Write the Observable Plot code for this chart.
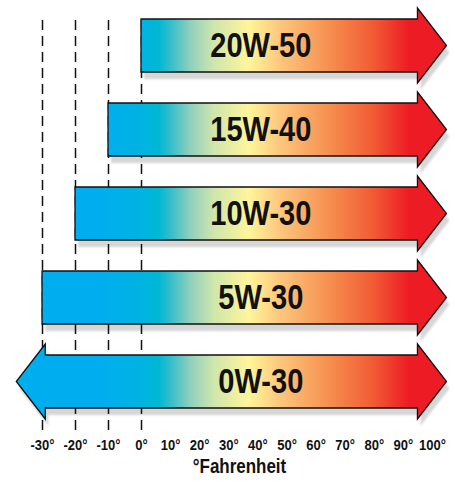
<!DOCTYPE html>
<html><head><meta charset="utf-8">
<script src="https://cdn.jsdelivr.net/npm/d3@7"></script>
<script src="https://cdn.jsdelivr.net/npm/@observablehq/plot@0.6"></script>
<style>body{margin:0;background:#fff}</style>
</head><body><div id="chart"></div>
<script>
// ---- data ----
const grades = ["20W-50", "15W-40", "10W-30", "5W-30", "0W-30"];
const lowTemp = [0, -10, -20, -30, -29];
const highTemp = [95, 95, 95, 95, 95];
const extendsColder = [false, false, false, false, true];
const tickValues = [-30, -20, -10, 0, 10, 20, 30, 40, 50, 60, 70, 80, 90, 100];
const guideTemps = [-30, -20, -10, 0];
const gradientTemps = [-12, 0, 6, 11, 17, 25, 37, 48, 65, 80, 92];
const gradientColors = ["#00aeef", "#00b3e2", "#00b8d4", "#40c0c8", "#90d0bc", "#cfe6ac", "#fff59b", "#fdc67c", "#f68e4f", "#f15a34", "#ed1c24"];

const rows = grades.map((g, i) => ({grade: g, low: lowTemp[i], high: highTemp[i], colder: extendsColder[i]}));

const FONT = "'Liberation Sans', Arial, sans-serif";
const SVGNS = "http://www.w3.org/2000/svg";

// narrow the text horizontally (Arial Narrow look)
function narrow(k) {
  return (index, scales, values, dimensions, context, next) => {
    const g = next(index, scales, values, dimensions, context);
    g.querySelectorAll("text").forEach(t => {
      const tr = t.getAttribute("transform") || "";
      t.setAttribute("transform", tr + ` scale(${k},1)`);
    });
    return g;
  };
}

function arrowPaths(scales) {
  const x = scales.x, y = scales.y;
  const bw = typeof y.bandwidth === "function" ? y.bandwidth() : (y.bandwidth ?? scales.scales.y.bandwidth);
  const flare = 11, len = 29;
  return rows.map(r => {
    const xl = x(r.low), xr = x(r.high), yt = y(r.grade), yb = yt + bw, yc = yt + bw / 2;
    let d = `M${xl},${yt}L${xr},${yt}L${xr},${yt - flare}L${xr + len},${yc}L${xr},${yb + flare}L${xr},${yb}L${xl},${yb}`;
    if (r.colder) d += `L${xl},${yb + flare}L${xl - len},${yc}L${xl},${yt - flare}`;
    return d + "Z";
  });
}

function shadows(index, scales) {
  const g = document.createElementNS(SVGNS, "g");
  const defs = document.createElementNS(SVGNS, "defs");
  const f = document.createElementNS(SVGNS, "filter");
  f.setAttribute("id", "blur");
  f.setAttribute("x", "-10%"); f.setAttribute("y", "-30%");
  f.setAttribute("width", "120%"); f.setAttribute("height", "160%");
  const fb = document.createElementNS(SVGNS, "feGaussianBlur");
  fb.setAttribute("stdDeviation", "1.2");
  f.appendChild(fb);
  defs.appendChild(f);
  g.appendChild(defs);
  arrowPaths(scales).forEach(d => {
    const sh = document.createElementNS(SVGNS, "path");
    sh.setAttribute("d", d);
    sh.setAttribute("transform", "translate(3,7)");
    sh.setAttribute("fill", "#d6d6d6");
    sh.setAttribute("filter", "url(#blur)");
    g.appendChild(sh);
  });
  return g;
}

function arrows(index, scales, values, dimensions) {
  const x = scales.x;
  const g = document.createElementNS(SVGNS, "g");
  const defs = document.createElementNS(SVGNS, "defs");
  const lg = document.createElementNS(SVGNS, "linearGradient");
  lg.setAttribute("id", "oilgrad");
  lg.setAttribute("gradientUnits", "userSpaceOnUse");
  lg.setAttribute("x1", 0); lg.setAttribute("x2", dimensions.width);
  lg.setAttribute("y1", 0); lg.setAttribute("y2", 0);
  gradientTemps.forEach((t, i) => {
    const s = document.createElementNS(SVGNS, "stop");
    s.setAttribute("offset", x(t) / dimensions.width);
    s.setAttribute("stop-color", gradientColors[i]);
    lg.appendChild(s);
  });
  defs.appendChild(lg);
  g.appendChild(defs);
  arrowPaths(scales).forEach(d => {
    const p = document.createElementNS(SVGNS, "path");
    p.setAttribute("d", d);
    p.setAttribute("fill", "url(#oilgrad)");
    p.setAttribute("stroke", "#111");
    p.setAttribute("stroke-width", 1.3);
    p.setAttribute("stroke-linejoin", "miter");
    g.appendChild(p);
  });
  return g;
}

const chart = Plot.plot({
  width: 455,
  height: 482,
  marginTop: 18,
  marginBottom: 72,
  marginLeft: 30,
  marginRight: 7,
  x: {type: "linear", domain: [-30, 0, 100], range: [42, 141, 432]},
  y: {type: "band", domain: grades, paddingInner: 0.365, paddingOuter: 0, axis: null},
  marks: [
    shadows,
    Plot.ruleX(guideTemps, {stroke: "#111", strokeWidth: 1.5, strokeDasharray: "10,6", insetTop: 2, insetBottom: -20}),
    arrows,
    Plot.text(rows, {x: () => 41, y: "grade", text: "grade", fontSize: 35, fontWeight: "bold", fill: "#111", fontFamily: FONT, render: narrow(0.83)}),
    Plot.axisX(tickValues, {tickSize: 0, tickPadding: 30, tickFormat: d => d + "°", fontSize: 14, fontWeight: "bold", fontFamily: FONT, label: null, fill: "#111", render: narrow(0.93)}),
    Plot.text(["°Fahrenheit"], {frameAnchor: "bottom", dy: 62, fontSize: 19.5, fontWeight: "bold", fontFamily: FONT, fill: "#111", render: narrow(0.87)})
  ],
  style: {background: "#fff", color: "#111", fontFamily: FONT}
});
document.getElementById("chart").appendChild(chart);
</script>
</body></html>
